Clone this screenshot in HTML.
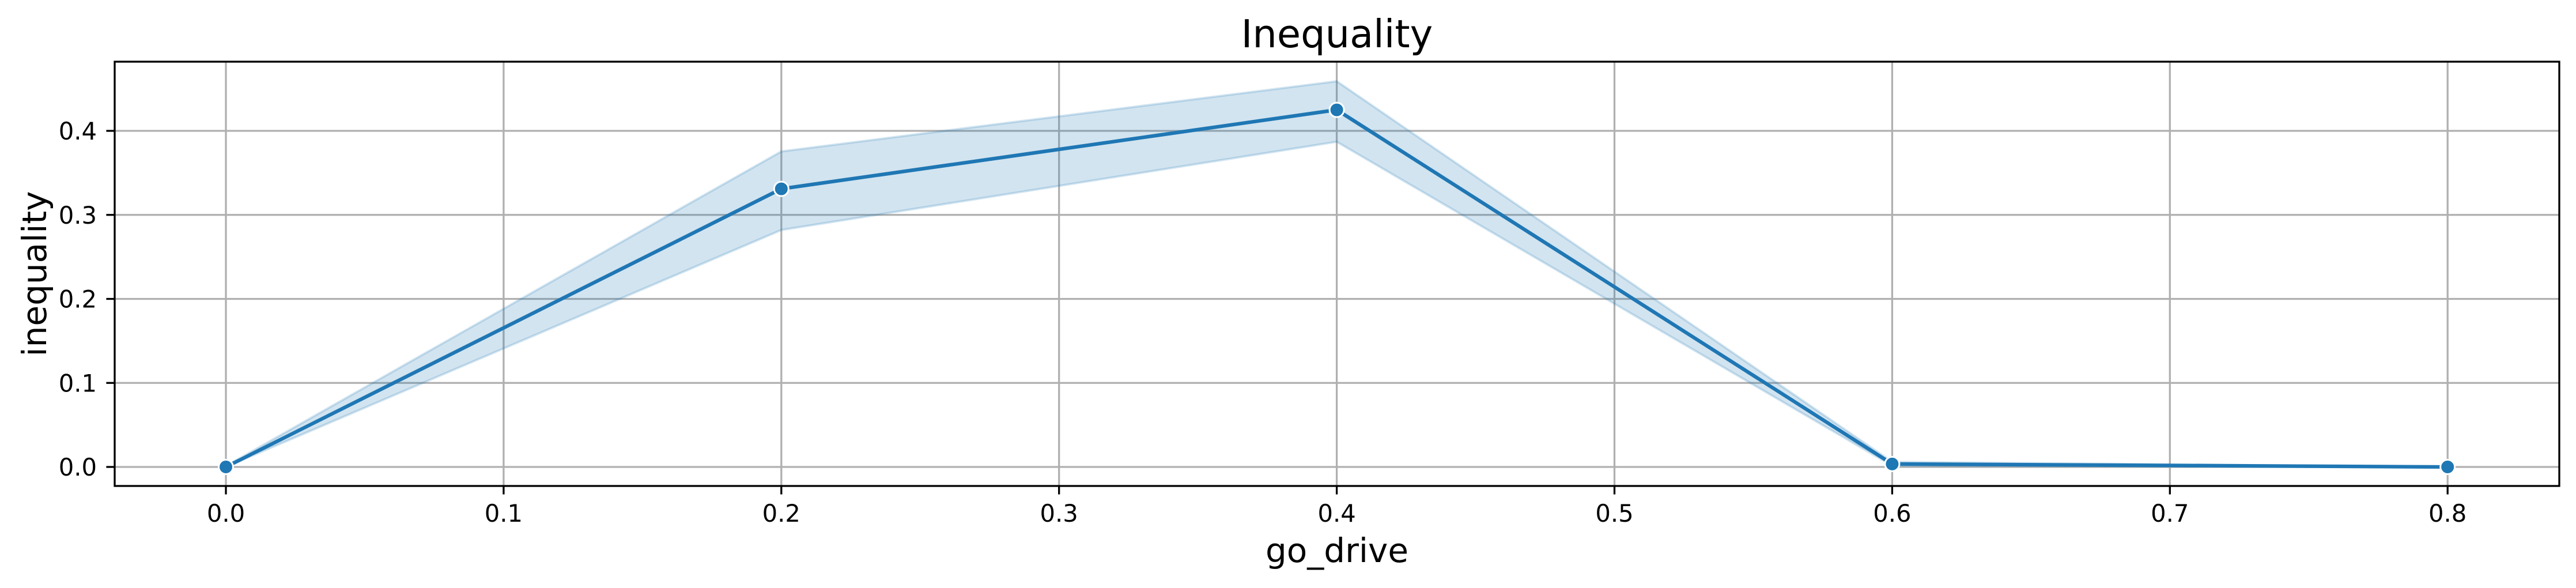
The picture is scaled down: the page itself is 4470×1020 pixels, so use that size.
<!DOCTYPE html>
<html><head><meta charset="utf-8">
<style>
html,body{margin:0;padding:0;background:#fff;}
svg{display:block;font-family:"DejaVu Sans","Liberation Sans",sans-serif;}
</style></head>
<body>
<svg id="chart" width="4470" height="1020" viewBox="0 0 4470 1020" xmlns="http://www.w3.org/2000/svg">
<rect x="0" y="0" width="4470" height="1020" fill="#fff"/>
<g id="grid"></g>
<g id="band"></g>
<g id="series"></g>
<rect x="199" y="107" width="4242" height="736" fill="none" stroke="#000" stroke-width="3.3"/>
<g id="ticks"></g>
<text x="2320" y="82" font-size="67" text-anchor="middle">Inequality</text>
<text x="2320" y="975" font-size="58" text-anchor="middle">go_drive</text>
<text transform="translate(80,475) rotate(-90)" font-size="58" text-anchor="middle">inequality</text>
</svg>
<script>
const xValues = [0.0, 0.2, 0.4, 0.6, 0.8];
const meanValues = [0.0, 0.331, 0.425, 0.0035, 0.0];
const upperValues = [0.001, 0.3755, 0.459, 0.006, 0.0];
const lowerValues = [0.0, 0.282, 0.387, 0.0015, 0.0];
const xTicks = [0.0, 0.1, 0.2, 0.3, 0.4, 0.5, 0.6, 0.7, 0.8];
const xTickLabels = ["0.0","0.1","0.2","0.3","0.4","0.5","0.6","0.7","0.8"];
const yTicks = [0.0, 0.1, 0.2, 0.3, 0.4];
const yTickLabels = ["0.0","0.1","0.2","0.3","0.4"];

const NS = "http://www.w3.org/2000/svg";
const L = 199, R = 4441, T = 107, B = 843;
function xs(v){ return 392 + v * 4819; }
function ys(v){ return 810 - v * 1457.5; }
function mk(tag, attrs, parent){
  const e = document.createElementNS(NS, tag);
  for (const k in attrs) e.setAttribute(k, attrs[k]);
  parent.appendChild(e); return e;
}
const grid = document.getElementById('grid');
const ticks = document.getElementById('ticks');
xTicks.forEach((v,i)=>{
  const x = xs(v);
  const g = mk('line',{x1:x,x2:x,y1:T,y2:B,stroke:'#b0b0b0','stroke-width':3.3},grid);
  
  
  const t = mk('line',{x1:x,x2:x,y1:B,y2:B+14.6,stroke:'#000','stroke-width':3.3},ticks);
  
  
  const lb = mk('text',{x:x,y:905,'font-size':41.7,'text-anchor':'middle'},ticks);
  lb.textContent = xTickLabels[i];
  
  
});
yTicks.forEach((v,i)=>{
  const y = ys(v);
  const g = mk('line',{x1:L,x2:R,y1:y,y2:y,stroke:'#b0b0b0','stroke-width':3.3},grid);
  
  
  const t = mk('line',{x1:L-14.6,x2:L,y1:y,y2:y,stroke:'#000','stroke-width':3.3},ticks);
  
  
  const lb = mk('text',{x:168,y:y+15,'font-size':41.7,'text-anchor':'end'},ticks);
  lb.textContent = yTickLabels[i];
  
  
});
const band = document.getElementById('band');
let pts = xValues.map((v,i)=>xs(v)+','+ys(upperValues[i]));
for (let i = xValues.length-1; i>=0; i--) pts.push(xs(xValues[i])+','+ys(lowerValues[i]));
const poly = mk('polygon',{points:pts.join(' '),fill:'rgba(31,119,180,0.2)',stroke:'rgba(31,119,180,0.2)','stroke-width':4},band);


const series = document.getElementById('series');
const line = mk('polyline',{points:xValues.map((v,i)=>xs(v)+','+ys(meanValues[i])).join(' '),fill:'none',stroke:'#1f77b4','stroke-width':6.25,'stroke-linejoin':'round','stroke-linecap':'round'},series);


xValues.forEach((v,i)=>{
  const c = mk('circle',{cx:xs(v),cy:ys(meanValues[i]),r:12.5,fill:'#1f77b4',stroke:'#fff','stroke-width':3},series);
  
  
});
</script>
</body></html>
